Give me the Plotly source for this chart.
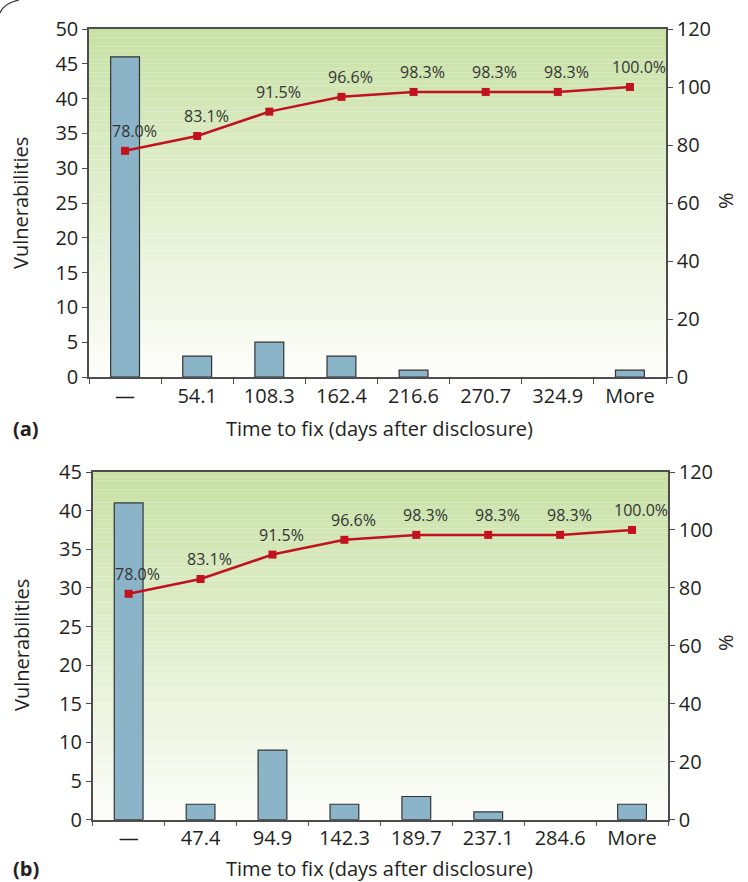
import plotly.graph_objects as go

# ---- data ----
cats_a = ["—", "54.1", "108.3", "162.4", "216.6", "270.7", "324.9", "More"]
vuln_a = [46, 3, 5, 3, 1, 0, 0, 1]
pct_a = [78.0, 83.1, 91.5, 96.6, 98.3, 98.3, 98.3, 100.0]

cats_b = ["—", "47.4", "94.9", "142.3", "189.7", "237.1", "284.6", "More"]
vuln_b = [41, 2, 9, 2, 3, 1, 0, 2]
pct_b = [78.0, 83.1, 91.5, 96.6, 98.3, 98.3, 98.3, 100.0]

W, H = 748, 882
FONT = "Open Sans"
TXT = "#231f20"
AXC = "#4d4d4d"
BAR = "#8cb4c9"
RED = "#c1121f"

def px(x):
    return x / W

def py(y):
    return 1 - y / H

fig = go.Figure()

panels = [
    dict(cats=cats_a, vuln=vuln_a, pct=pct_a, xa="x", ya="y", ya2="y2",
         xd=[px(89), px(666)], yd=[py(377), py(29)], ymax=50, label="(a)",
         ycen=203, xtitle_y=428),
    dict(cats=cats_b, vuln=vuln_b, pct=pct_b, xa="x2", ya="y3", ya2="y4",
         xd=[px(92.7), px(668)], yd=[py(819.7), py(472)], ymax=45, label="(b)",
         ycen=645, xtitle_y=868),
]

shapes = []
annotations = []
N = 80
top_c = (200, 225, 165)
bot_c = (253, 253, 250)

for p in panels:
    fig.add_trace(go.Bar(
        x=p["cats"], y=p["vuln"], xaxis=p["xa"], yaxis=p["ya"],
        marker=dict(color=BAR,
                    line=dict(color="#333333",
                              width=[0 if v == 0 else 1.2 for v in p["vuln"]])),
        showlegend=False, hoverinfo="skip"))
    fig.add_trace(go.Scatter(
        x=p["cats"], y=p["pct"], xaxis=p["xa"], yaxis=p["ya2"],
        mode="lines+markers",
        line=dict(color=RED, width=2.5),
        marker=dict(symbol="square", size=8, color=RED),
        showlegend=False, hoverinfo="skip"))
    for i, v in enumerate(p["pct"]):
        annotations.append(dict(
            x=i, y=v, xref=p["xa"], yref=p["ya2"],
            text=f"{v:.1f}%", showarrow=False, xshift=9, yshift=20,
            font=dict(family=FONT, size=16, color="#333333")))
    # gradient background
    xr = p["xa"] + " domain"
    yr = p["ya"] + " domain"
    for i in range(N):
        t = i / (N - 1)  # 0 bottom -> 1 top
        col = tuple(round(bot_c[k] + (top_c[k] - bot_c[k]) * t) for k in range(3))
        shapes.append(dict(
            type="rect", xref=xr, yref=yr, x0=0, x1=1,
            y0=i / N, y1=(i + 1) / N, layer="below",
            fillcolor="rgb(%d,%d,%d)" % col, line=dict(width=0)))
    annotations.append(dict(
        x=px(379), y=py(p["xtitle_y"]), xref="paper", yref="paper",
        text="Time to fix (days after disclosure)", showarrow=False,
        font=dict(family=FONT, size=20, color=TXT), xanchor="center", yanchor="middle"))
    annotations.append(dict(
        x=px(21), y=py(p["ycen"]), xref="paper", yref="paper",
        text="Vulnerabilities", showarrow=False, textangle=-90,
        font=dict(family=FONT, size=20, color=TXT), xanchor="center", yanchor="middle"))
    annotations.append(dict(
        x=px(725), y=py(p["ycen"] - 2), xref="paper", yref="paper",
        text="%", showarrow=False, textangle=-90,
        font=dict(family=FONT, size=20, color=TXT), xanchor="center", yanchor="middle"))
    annotations.append(dict(
        x=px(11), y=py(p["xtitle_y"]), xref="paper", yref="paper",
        text="<b>" + p["label"] + "</b>", showarrow=False,
        font=dict(family=FONT, size=20, color=TXT), xanchor="left", yanchor="middle"))

# decorative corner arc
shapes.append(dict(type="path", xref="paper", yref="paper",
                   path="M %f,%f Q %f,%f %f,%f" % (px(0), py(13), px(4), py(3), px(19), py(0)),
                   line=dict(color="#333333", width=1.2)))

def xaxis(p, anchor):
    return dict(domain=p["xd"], anchor=anchor, type="category",
                categoryorder="array", categoryarray=p["cats"],
                range=[-0.5, len(p["cats"]) - 0.5],
                showline=True, linecolor=AXC, linewidth=1.5, mirror=True,
                ticks="outside", tickson="boundaries", ticklen=5, tickcolor=AXC,
                tickfont=dict(family=FONT, size=20, color=TXT),
                showgrid=False, zeroline=False, fixedrange=True)

def yleft(p, anchor):
    return dict(domain=p["yd"], anchor=anchor, range=[0, p["ymax"]], dtick=5,
                showline=True, linecolor=AXC, linewidth=1.5,
                ticks="outside", ticklen=5, tickcolor=AXC,
                tickfont=dict(family=FONT, size=20, color=TXT),
                showgrid=False, zeroline=False)

def yright(p, anchor, overlay):
    return dict(range=[0, 120], dtick=20, overlaying=overlay, side="right",
                anchor=anchor, showline=True, linecolor=AXC, linewidth=1.5,
                ticks="outside", ticklen=5, tickcolor=AXC,
                tickfont=dict(family=FONT, size=20, color=TXT),
                showgrid=False, zeroline=False)

pa, pb = panels
fig.update_layout(
    width=W, height=H,
    margin=dict(l=0, r=0, t=0, b=0, autoexpand=False),
    paper_bgcolor="white", plot_bgcolor="rgba(0,0,0,0)",
    bargap=0.6,
    xaxis=xaxis(pa, "y"),
    yaxis=yleft(pa, "x"),
    yaxis2=yright(pa, "x", "y"),
    xaxis2=xaxis(pb, "y3"),
    yaxis3=yleft(pb, "x2"),
    yaxis4=yright(pb, "x2", "y3"),
    shapes=shapes,
    annotations=annotations,
    font=dict(family=FONT, color=TXT),
)

fig.write_html("out.html",
               config={"displayModeBar": False},
               post_script="document.body.style.margin='0';document.body.style.overflow='hidden';")
